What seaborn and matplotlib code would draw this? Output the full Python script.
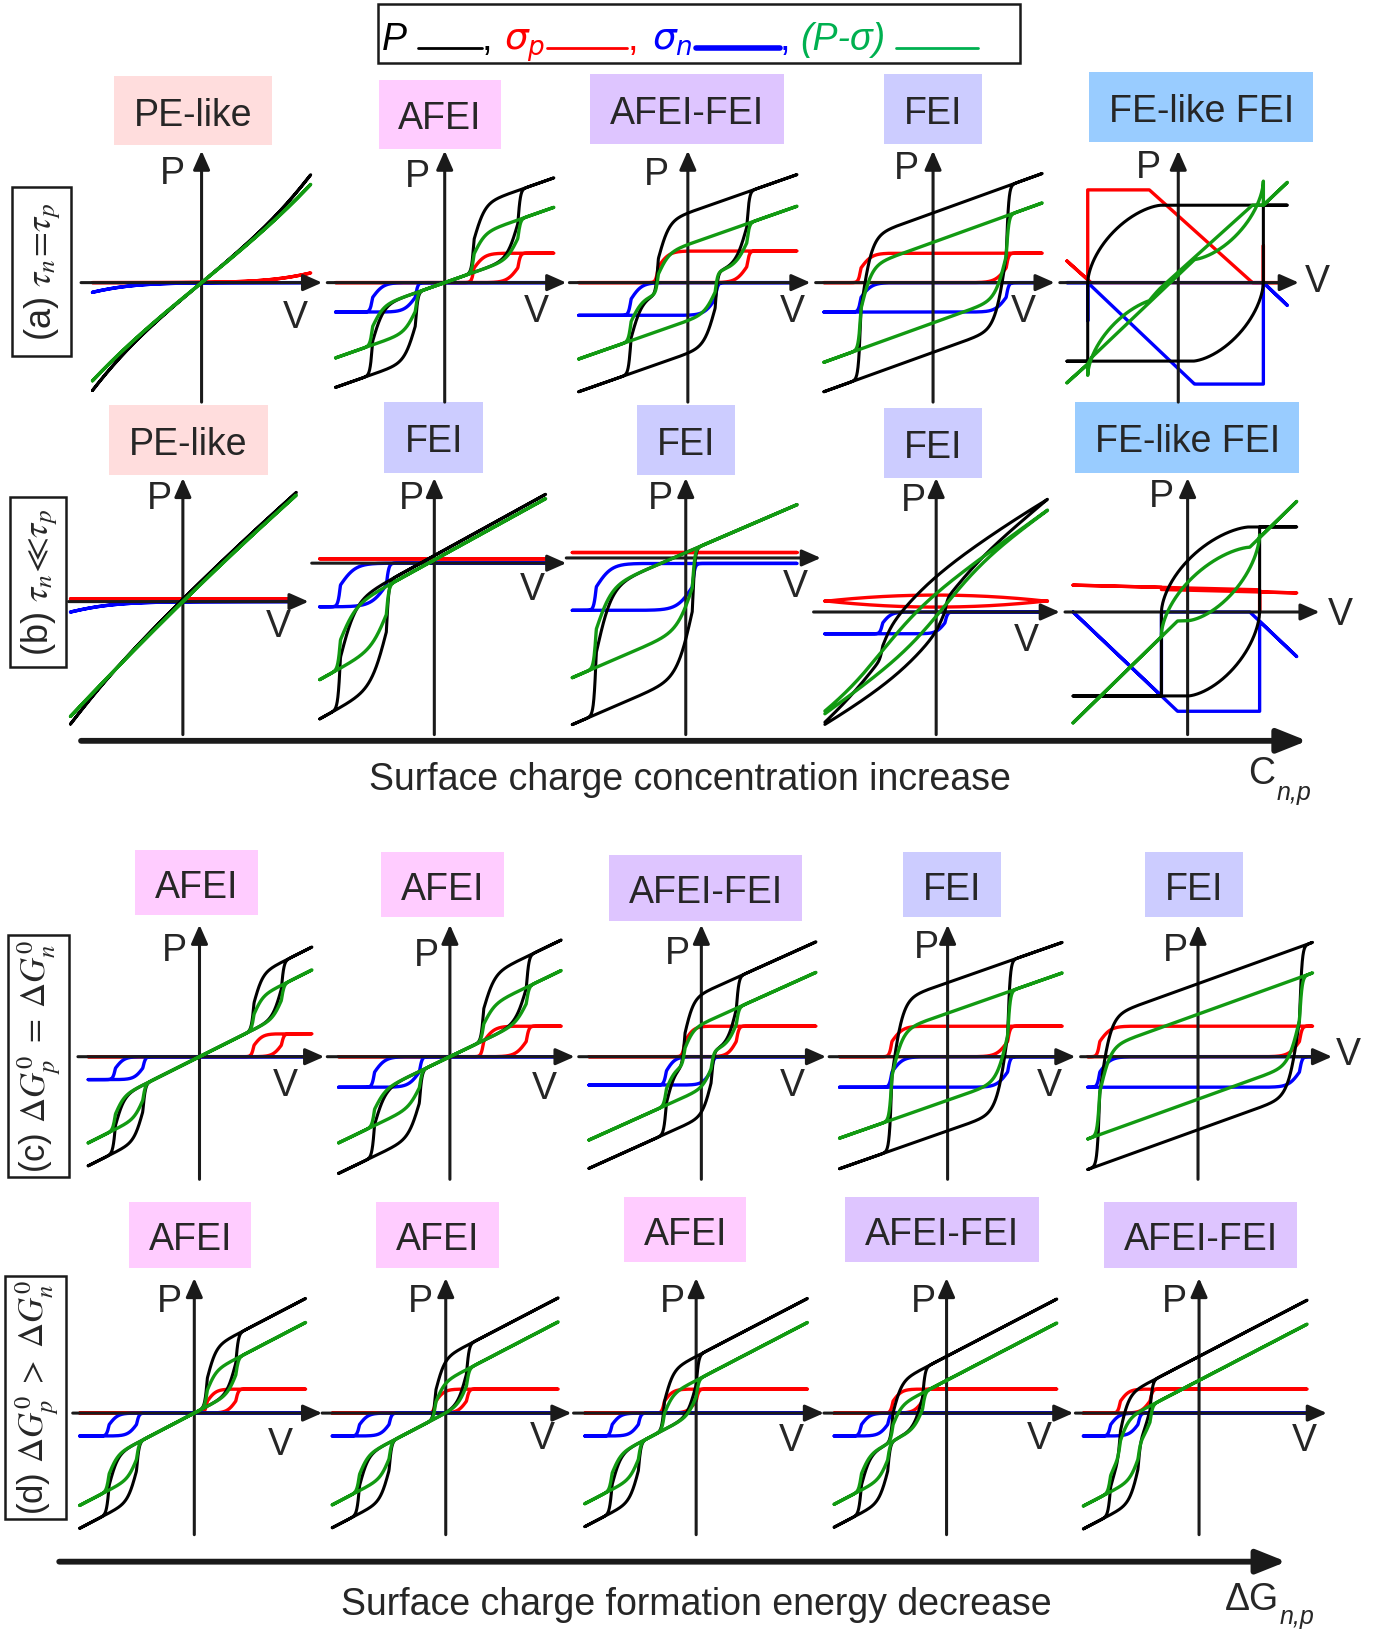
import numpy as np
import matplotlib
matplotlib.use("Agg")
import matplotlib.pyplot as plt
from matplotlib.patches import Rectangle, FancyArrowPatch
from matplotlib.lines import Line2D
import seaborn as sns

sns.set_theme(style="white")
plt.rcParams["font.family"] = ["Liberation Sans", "DejaVu Sans"]

# ---------------- chart values ----------------
PHASE = ["PE-like", "AFEI", "AFEI-FEI", "FEI", "FE-like FEI",
         "PE-like", "FEI", "FEI", "FEI", "FE-like FEI",
         "AFEI", "AFEI", "AFEI-FEI", "FEI", "FEI",
         "AFEI", "AFEI", "AFEI", "AFEI-FEI", "AFEI-FEI"]
KIND = ["s", "s", "s", "s", "fe", "s", "s", "s", "s", "fe"] + ["s"] * 10
V_MIN = [-1.0, -1.0, -1.0, -1.0, -1.02, -1.03, -1.05, -1.04, -1.02, -1.05,
         -1.02, -1.02, -1.03, -0.99, -1.01, -1.05, -1.04, -1.02, -1.03, -1.06]
V_MAX = [1.0, 1.0, 1.0, 1.0, 1.0, 1.04, 1.02, 1.02, 1.02, 1.0,
         1.03, 1.02, 1.05, 1.05, 1.05, 1.02, 1.03, 1.02, 1.01, 0.99]
# (P - sigma) curve: linear, offset, quadratic, cubic, switching amplitudes
EPS = [0.82, 0.35, 0.35, 0.36, 0, 0.98, 0.55, 0.43, 0.72, 0,
       0.50, 0.48, 0.45, 0.35, 0.36, 0.52, 0.52, 0.52, 0.52, 0.52]
C0 = [0, 0, 0, 0, 0, 0, -0.23, -0.30, 0.0, 0] + [0] * 10
C2 = [0, 0, 0, 0, 0, -0.04, 0, 0, 0, 0] + [0] * 10
C3 = [0.08, 0, 0, 0, 0, 0, 0, 0, 0, 0] + [0] * 10
PG_P = [0, 0.17, 0.175, 0.185, 0, 0, 0, 0, 0, 0,
        0.14, 0.15, 0.15, 0.20, 0.195, 0.15, 0.15, 0.15, 0.15, 0.15]
PG_N = [0, 0.17, 0.175, 0.185, 0, 0, 0.26, 0.35, 0.20, 0,
        0.14, 0.15, 0.15, 0.20, 0.195, 0.15, 0.15, 0.15, 0.15, 0.15]
# surface charges sigma_p (red) and sigma_n (blue)
SP0 = [0, 0, 0, 0, 0, 0.025, 0.04, 0.05, 0.10, 0] + [0] * 10
SP = [0.25, 0.27, 0.29, 0.27, 0, 0, 0, 0, 0, 0,
      0.21, 0.28, 0.28, 0.28, 0.28, 0.22, 0.22, 0.22, 0.22, 0.22]
LENS = [0, 0, 0, 0, 0, 0, 0, 0, 0.055, 0] + [0] * 10
SN0 = [0, 0, 0, 0, 0, 0, 0, 0.05, 0, 0] + [0] * 10
SN = [0.25, 0.27, 0.30, 0.27, 0, 0.25, 0.40, 0.43, 0.20, 0,
      0.21, 0.28, 0.26, 0.28, 0.28, 0.21, 0.21, 0.21, 0.21, 0.21]
# switching voltages (up-sweep / down-sweep) for the p and n charges
P_UP = [1.15, 0.67, 0.54, 0.67, 0, 5, 5, 5, 5, 0,
        0.75, 0.70, 0.32, 0.55, 0.93, 0.38, 0.19, 0.0, -0.22, -0.45]
P_DN = [1.15, 0.27, -0.27, -0.66, 0, 5, 5, 5, 5, 0,
        0.50, 0.31, -0.15, -0.51, -0.90, 0.12, -0.09, -0.29, -0.49, -0.72]
N_UP = [-1.15, -0.27, 0.25, 0.67, 0, -1.15, -0.44, 0.06, 0.08, 0,
        -0.52, -0.28, 0.09, 0.55, 0.93, -0.53, -0.52, -0.53, -0.54, -0.56]
N_DN = [-1.15, -0.66, -0.52, -0.66, 0, -1.15, -0.86, -0.82, -0.49, 0,
        -0.77, -0.69, -0.32, -0.51, -0.90, -0.78, -0.79, -0.77, -0.78, -0.81]
W_IN = [0.25, 0.05, 0.05, 0.05, 0, 0.25, 0.07, 0.07, 0.04, 0,
        0.04, 0.05, 0.04, 0.05, 0.05, 0.04, 0.04, 0.04, 0.04, 0.04]
W_OUT = [0.25, 0.012, 0.012, 0.012, 0, 0.25, 0.012, 0.012, 0.012, 0,
         0.012, 0.012, 0.012, 0.012, 0.012, 0.012, 0.012, 0.012, 0.012, 0.012]
W_G = [0, 0, 0, 0, 0, 0, 0, 0, 0.2, 0] + [0] * 10

# ferroelectric-like FEI panels (a5, b5)
FE_PM_UP = [0.71, 0.78]
FE_PM_LO = [-0.72, -0.77]
FE_VC_UP = [0.78, 0.66]
FE_VC_DN = [-0.83, -0.24]
FE_VK_UP = [0.13, 0.0]
FE_VK_DN = [-0.15, 0.57]
FE_KP = [0.9, 0.025]
FE_P0_POS = [0.68, 8.0]
FE_P0_NEG = [-0.80, 8.8]
FE_SPMAX = [0.85, 1.0]
FE_KN = [0.95, 0.95]
FE_N0_POS = [0.78, 0.57]
FE_N0_NEG = [-0.83, -1.05]
FE_SNMAX = [0.93, 0.91]
FE_SPIKE_P = [0.34, 0.0]
FE_SPIKE_N = [-0.35, 0.0]

ROW_TAGS = [r"(a) $\tau_n\!=\!\tau_p$", r"(b) $\tau_n\!\ll\!\tau_p$",
            r"(c) $\Delta G_p^0\;=\;\Delta G_n^0$", r"(d) $\Delta G_p^0\;>\;\Delta G_n^0$"]
AXIS_TEXT = ["Surface charge concentration increase",
             "Surface charge formation energy decrease"]

# ---------------- layout (pixels of the 1332-wide view) ----------------
W_PX, H_PX = 1384, 1629
K = 1384 / 1332.0
U = 105.0
AXIS_X = [194, 428, 662, 898, 1134, 176, 418, 660, 901, 1143,
          192, 433, 675, 912, 1153, 187, 429, 670, 911, 1154]
AXIS_Y = [272] * 5 + [579, 542, 537, 589, 589] + [1017] * 5 + [1360] * 5
X_LEFT = [78, 315, 548, 785, 1020, 66, 300, 545, 783, 1025,
          75, 315, 557, 798, 1040, 70, 310, 552, 793, 1035]
X_RIGHT = [310, 545, 780, 1015, 1250, 297, 545, 790, 1020, 1270,
           312, 553, 795, 1035, 1282, 310, 550, 793, 1033, 1277]
Y_TOP = [145] * 5 + [460] * 5 + [890] * 5 + [1230] * 5
Y_BOT = [387] * 5 + [707] * 5 + [1135] * 5 + [1477] * 5
P_POS = [(166, 167), (402, 170), (632, 168), (872, 163), (1105, 162),
         (153, 480), (396, 480), (636, 480), (879, 482), (1118, 478),
         (168, 915), (410, 920), (652, 918), (892, 912), (1131, 915),
         (163, 1253), (405, 1253), (647, 1253), (889, 1253), (1130, 1253)]
V_POS = [(284, 306), (516, 300), (763, 300), (985, 300), (1268, 271),
         (268, 603), (512, 568), (765, 565), (988, 617), (1290, 592),
         (275, 1045), (524, 1048), (763, 1045), (1010, 1045), (1298, 1015),
         (270, 1391), (522, 1385), (762, 1387), (1000, 1385), (1255, 1387)]
BOX_RECT = [(110, 262, 73, 140), (365, 482, 77, 143), (568, 755, 71, 139),
            (851, 945, 71, 139), (1048, 1264, 69, 137),
            (105, 258, 390, 457), (370, 465, 387, 455), (613, 707, 390, 457),
            (851, 945, 393, 460), (1035, 1250, 387, 455),
            (130, 248, 818, 881), (367, 485, 820, 883), (586, 772, 823, 886),
            (869, 963, 820, 883), (1102, 1196, 820, 883),
            (124, 242, 1157, 1220), (362, 480, 1157, 1220), (601, 718, 1152, 1215),
            (813, 1000, 1152, 1215), (1063, 1248, 1157, 1220)]
TAG_RECT = [(12, 68, 180, 343), (10, 64, 478, 642), (8, 66, 900, 1133), (5, 64, 1228, 1462)]
TAG_SIZE = [26, 26, 25, 25]
PHASE_COLOR = {"PE-like": "#FFDDDD", "AFEI": "#FFCCFF", "AFEI-FEI": "#DEC5FF",
               "FEI": "#CCCCFF", "FE-like FEI": "#99CCFF"}
C_BLACK, C_RED, C_BLUE, C_GREEN = "#000000", "#FF0000", "#0000FF", "#129A12"
FS = 27

fig = plt.figure(figsize=(W_PX / 100, H_PX / 100), dpi=100)


def fx(x):
    return x * K / W_PX


def fy(y):
    return 1 - y * K / H_PX


def gx(x):
    return x / W_PX


def gy(y):
    return 1 - y / H_PX


def sw(V, vc, w_in, w_out, up):
    z = V - vc
    before = (z < 0) if up else (z > 0)
    w = np.where(before, w_in, w_out)
    return 0.5 * (1 + np.tanh(z / (2 * w)))


def std_curves(i):
    out = {"k": ([], []), "r": ([], []), "b": ([], []), "g": ([], [])}
    Vg = np.linspace(V_MIN[i], V_MAX[i], 700)
    wgi = W_G[i] if W_G[i] > 0 else W_IN[i]
    wgo = W_G[i] if W_G[i] > 0 else W_OUT[i]
    for up, V in ((True, Vg), (False, Vg[::-1])):
        vp = P_UP[i] if up else P_DN[i]
        vn = N_UP[i] if up else N_DN[i]
        sp = sw(V, vp, W_IN[i], W_OUT[i], up)
        sn = sw(V, vn, W_IN[i], W_OUT[i], up)
        spg = sw(V, vp, wgi, wgo, up)
        sng = sw(V, vn, wgi, wgo, up)
        g = (EPS[i] * V + C0[i] + C2[i] * V ** 2 + C3[i] * V ** 3
             + PG_P[i] * (2 * spg - 1) + PG_N[i] * (2 * sng - 1))
        r = SP0[i] + SP[i] * sp + (-1 if up else 1) * LENS[i] * (1 - V ** 2)
        b = -SN0[i] - SN[i] * (1 - sn)
        k = g + r + b
        for key, y in (("k", k), ("r", r), ("b", b), ("g", g)):
            out[key][0].append(V)
            out[key][1].append(y)
    return {kk: (np.concatenate(v[0]), np.concatenate(v[1])) for kk, v in out.items()}


def fe_curves(i, j):
    def arc(V, vk, vc):
        t = np.clip((V - vk) / (vc - vk), 0, 1)
        return (1 - t ** 1.6) ** 0.6

    def lower(V):
        return FE_PM_LO[j] * arc(V, FE_VK_UP[j], FE_VC_UP[j])

    def upper(V):
        return FE_PM_UP[j] * arc(V, FE_VK_DN[j], FE_VC_DN[j])

    def sp(V, v0):
        return np.clip(FE_KP[j] * (v0 - V), 0, FE_SPMAX[j])

    def sn(V, u0):
        return -np.clip(FE_KN[j] * (V - u0), 0, FE_SNMAX[j])

    s1 = np.linspace(V_MIN[i], FE_VC_UP[j], 400)
    s2 = np.linspace(FE_VC_UP[j], V_MAX[i], 200)
    s3 = np.linspace(V_MAX[i], FE_VC_DN[j], 500)
    s4 = np.linspace(FE_VC_DN[j], V_MIN[i], 150)
    k = [lower(s1), upper(s2), upper(s3), lower(s4)]
    r = [sp(s1, FE_P0_NEG[j]), sp(s2, FE_P0_POS[j]), sp(s3, FE_P0_POS[j]), sp(s4, FE_P0_NEG[j])]
    b = [sn(s1, FE_N0_NEG[j]), sn(s2, FE_N0_POS[j]), sn(s3, FE_N0_POS[j]), sn(s4, FE_N0_NEG[j])]
    V = np.concatenate([s1, s2, s3, s4])
    kk, rr, bb = np.concatenate(k), np.concatenate(r), np.concatenate(b)
    gg = kk - rr - bb
    n1 = len(s1)
    n3 = len(s1) + len(s2) + len(s3)
    Vr = np.insert(V, n1, FE_VC_UP[j])
    rr2 = np.insert(rr, n1, FE_SPIKE_P[j])
    Vb = np.insert(V, n3, FE_VC_DN[j])
    bb2 = np.insert(bb, n3, FE_SPIKE_N[j])
    return {"k": (V, kk), "r": (Vr, rr2), "b": (Vb, bb2), "g": (V, gg)}


arrow_kw = dict(arrowstyle="-|>,head_length=0.95,head_width=0.42", color="k",
                lw=2.2, shrinkA=0, shrinkB=0, mutation_scale=12)

fe_index = 0
for i in range(20):
    ox, oy = AXIS_X[i], AXIS_Y[i]
    xl, xr = (X_LEFT[i] - ox) / U, (X_RIGHT[i] - ox) / U
    yb, yt = (oy - Y_BOT[i]) / U, (oy - Y_TOP[i]) / U
    ax = fig.add_axes([fx(X_LEFT[i]), fy(Y_BOT[i]),
                       (X_RIGHT[i] - X_LEFT[i]) * K / W_PX,
                       (Y_BOT[i] - Y_TOP[i]) * K / H_PX])
    ax.annotate("", xy=(xr, 0), xytext=(xl, 0), arrowprops=arrow_kw, zorder=3)
    ax.annotate("", xy=(0, yt), xytext=(0, yb), arrowprops=arrow_kw, zorder=3)

    if KIND[i] == "fe":
        cv = fe_curves(i, fe_index)
        fe_index += 1
    else:
        cv = std_curves(i)
    for key, col, lw, z in (("r", C_RED, 2.4, 2), ("b", C_BLUE, 2.4, 2),
                            ("k", C_BLACK, 2.2, 4), ("g", C_GREEN, 2.4, 5)):
        x, y = cv[key]
        sns.lineplot(x=x, y=y, sort=False, estimator=None, color=col,
                     linewidth=lw, ax=ax, zorder=z, legend=False)
        ax.lines[-1].set_clip_on(False)
        ax.lines[-1].set_solid_capstyle("round")
    ax.set_xlim(xl, xr)
    ax.set_ylim(yb, yt)
    ax.axis("off")

    fig.text(fx(P_POS[i][0]), fy(P_POS[i][1]), "P", fontsize=FS, ha="center", va="center")
    fig.text(fx(V_POS[i][0]), fy(V_POS[i][1]), "V", fontsize=FS, ha="center", va="center")
    x0, x1, y0, y1 = BOX_RECT[i]
    fig.add_artist(Rectangle((fx(x0), fy(y1)), (x1 - x0) * K / W_PX, (y1 - y0) * K / H_PX,
                             transform=fig.transFigure, fc=PHASE_COLOR[PHASE[i]],
                             ec="none", zorder=0))
    fig.text(fx((x0 + x1) / 2), fy((y0 + y1) / 2 + 1), PHASE[i], fontsize=FS,
             ha="center", va="center_baseline")

for tag, (x0, x1, y0, y1), s in zip(ROW_TAGS, TAG_RECT, TAG_SIZE):
    fig.add_artist(Rectangle((fx(x0), fy(y1)), (x1 - x0) * K / W_PX, (y1 - y0) * K / H_PX,
                             transform=fig.transFigure, fc="white", ec="k", lw=1.8))
    fig.text(fx((x0 + x1) / 2 + 1), fy((y0 + y1) / 2), tag, fontsize=s, rotation=90,
             ha="center", va="center", math_fontfamily="stix")

# big trend arrows
for (x0, x1, y) in ((78, 1258, 713), (57, 1238, 1503)):
    fig.add_artist(FancyArrowPatch((fx(x0), fy(y)), (fx(x1), fy(y)),
                                   transform=fig.transFigure,
                                   arrowstyle="-|>,head_length=0.9,head_width=0.36",
                                   mutation_scale=20, lw=4.2, color="k",
                                   shrinkA=0, shrinkB=0))
fig.text(fx(664), fy(751), AXIS_TEXT[0], fontsize=FS, ha="center", va="center")
fig.text(fx(670), fy(1545), AXIS_TEXT[1], fontsize=FS, ha="center", va="center")
fig.text(fx(1214), fy(745), "C", fontsize=FS, ha="center", va="center")
fig.text(fx(1245), fy(763), "n,p", fontsize=18, style="italic", ha="center", va="center")
fig.text(fx(1205), fy(1540), "\u0394G", fontsize=FS, ha="center", va="center")
fig.text(fx(1248), fy(1556), "n,p", fontsize=18, style="italic", ha="center", va="center")

# legend box (full-size pixel positions)
fig.add_artist(Rectangle((gx(378), gy(63)), 642 / W_PX, 59 / H_PX,
                         transform=fig.transFigure, fill=False, ec="k", lw=1.8))
LEG_TEXT = [(382, "P", C_BLACK, "italic"), (482, ",", C_BLACK, "normal"),
            (504, r"$\sigma_p$", C_RED, "normal"), (628, ",", C_RED, "normal"),
            (652, r"$\sigma_n$", C_BLUE, "normal"), (780, ",", C_BLUE, "normal"),
            (800, "(P-\u03c3)", "#00B050", "italic")]
for x, s, c, st in LEG_TEXT:
    fig.text(gx(x), gy(50), s, fontsize=FS, color=c, style=st,
             ha="left", va="baseline", math_fontfamily="dejavusans")
LEG_LINES = [(418, 482, C_BLACK, 2.0), (547, 627, C_RED, 2.0),
             (696, 780, C_BLUE, 4.0), (896, 978, "#00B050", 2.0)]
for x0, x1, c, lw in LEG_LINES:
    fig.add_artist(Line2D([gx(x0), gx(x1)], [gy(48), gy(48)], transform=fig.transFigure,
                          color=c, lw=lw))

fig.savefig("out.png", dpi=100)
